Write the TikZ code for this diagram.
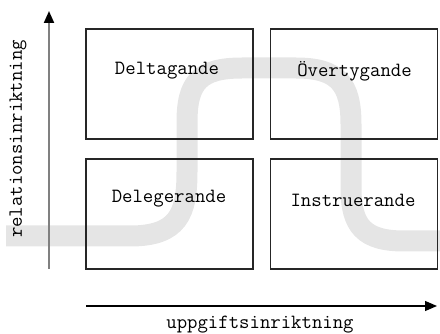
\documentclass[tikz,border=0pt]{standalone}
\usetikzlibrary{arrows.meta}
\begin{document}
\begin{tikzpicture}[x=1pt,y=-1pt,
  quad/.style={draw=black!85,line width=1.2pt,minimum width=167pt,minimum height=110pt,inner sep=0pt},
  lbl/.style={font=\ttfamily\fontsize{20.2}{22}\selectfont,inner sep=0pt},
  band/.style={draw=black!10,line width=21pt},
  tip/.style={-{Triangle[length=12pt,width=10pt,fill=black,color=black]}}]
\useasboundingbox (0,0) rectangle (440,334);
% background S-shaped band
\draw[band] (6,236) -- (130,236) .. controls (178,236) and (187,214) .. (187,172)
  -- (187,122) .. controls (187,82) and (200,68) .. (242,68)
  -- (296,68) .. controls (338,68) and (351,84) .. (351,124)
  -- (351,188) .. controls (351,226) and (364,241) .. (404,241) -- (446,241);
% four quadrants
\node[quad] (tl) at (169.5,84) {};
\node[quad] (tr) at (354,84) {};
\node[quad] (bl) at (169.5,214) {};
\node[quad] (br) at (354,214) {};
\node[lbl] (t1) at (167,71) {Deltagande};
\node[lbl] (t2) at (354.5,71) {Övertygande};
\node[lbl] (t3) at (169,199) {Delegerande};
\node[lbl] (t4) at (353,200) {Instruerande};
% axes
\coordinate (ya) at (49,269);
\coordinate (yb) at (49,11);
\coordinate (xa) at (86,306);
\coordinate (xb) at (437,306);
\draw[tip,draw=black!50,line width=2pt] (ya) -- (yb);
\draw[tip,line width=1.3pt] (xa) -- (xb);
\node[lbl,rotate=90] (ry) at (18,139) {relationsinriktning};
\node[lbl] (rx) at (260,325) {uppgiftsinriktning};
\end{tikzpicture}
\end{document}
